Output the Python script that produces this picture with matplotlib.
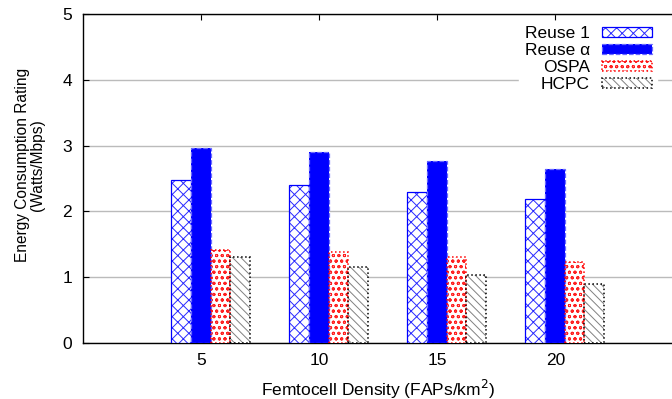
import matplotlib
matplotlib.use("Agg")
import matplotlib.pyplot as plt
import numpy as np
from matplotlib.legend_handler import HandlerTuple

plt.rcParams['font.family'] = ['Liberation Sans', 'DejaVu Sans']
plt.rcParams['hatch.linewidth'] = 0.7

categories = ["5", "10", "15", "20"]
series_names = ["Reuse 1", "Reuse \u03b1", "OSPA", "HCPC"]
reuse1 = [2.48, 2.40, 2.29, 2.19]
reuse_alpha = [2.96, 2.90, 2.76, 2.64]
ospa = [1.42, 1.38, 1.31, 1.23]
hcpc = [1.31, 1.16, 1.04, 0.89]

fig = plt.figure(figsize=(6.72, 3.99), dpi=100)
ax = fig.add_axes([83/672, 1-343/399, 1-83/672 + 0.002, (343-14)/399])

x = np.arange(len(categories))
w = 0.167
start = -0.254

# fill layer (hatch) and outline layer for each series
fills = [
    dict(facecolor='white', edgecolor='#2a2aff', hatch='xxx', linewidth=0),
    dict(facecolor='#0000ff', edgecolor='#0000ff', hatch=None, linewidth=0),
    dict(facecolor='white', edgecolor='#ff2020', hatch='ooo', linewidth=0),
    dict(facecolor='white', edgecolor='#808080', hatch='\\\\\\\\', linewidth=0),
]
outlines = [
    dict(edgecolor='#0000ff', linestyle='-', linewidth=0.9),
    dict(edgecolor='#6a6aff', linestyle='--', linewidth=0.9),
    dict(edgecolor='#ff0000', linestyle=':', linewidth=1.1),
    dict(edgecolor='#000000', linestyle=':', linewidth=1.1),
]
data = [reuse1, reuse_alpha, ospa, hcpc]
handles = []
for k, (vals, fs, os_) in enumerate(zip(data, fills, outlines)):
    b1 = ax.bar(x + start + k*w, vals, width=w, align='edge', zorder=3, **fs)
    b2 = ax.bar(x + start + k*w, vals, width=w, align='edge', zorder=4, fill=False, **os_)
    handles.append((b1, b2))

ax.set_xlim(-1, 4)
ax.set_ylim(0, 5)
ax.set_xticks(x)
ax.set_xticklabels(categories)
ax.set_yticks(range(0, 6))
ax.tick_params(direction='in', top=True, right=False, labelsize=12.5, length=4, pad=7)
ax.tick_params(axis='y', pad=8)
ax.spines['right'].set_visible(False)
for s in ['left', 'top', 'bottom']:
    ax.spines[s].set_linewidth(1.0)
ax.yaxis.grid(True, color='#bbbbbb', linewidth=1.0, zorder=0)
ax.set_axisbelow(True)

ax.set_xlabel("Femtocell Density (FAPs/km$^2$)", fontsize=12.5, labelpad=7)
ax.set_ylabel("Energy Consumption Rating\n(Watts/Mbps)", fontsize=11.2, linespacing=1.0)
ax.yaxis.set_label_coords(-0.065, 0.541)

leg = ax.legend(handles, series_names, handler_map={tuple: HandlerTuple(ndivide=1, pad=0)},
                loc='upper right', bbox_to_anchor=(0.979, 0.99), markerfirst=False, frameon=True,
                fontsize=12.5, handlelength=2.9, handleheight=0.5, labelspacing=0.12,
                borderaxespad=0.2, handletextpad=0.7, fancybox=False, borderpad=0.3)
leg.get_frame().set_edgecolor('white')
leg.get_frame().set_facecolor('white')
leg.get_frame().set_alpha(1.0)
leg.set_zorder(5)
for t in leg.get_texts():
    t.set_ha('right')

fig.savefig("out.png", dpi=100)
